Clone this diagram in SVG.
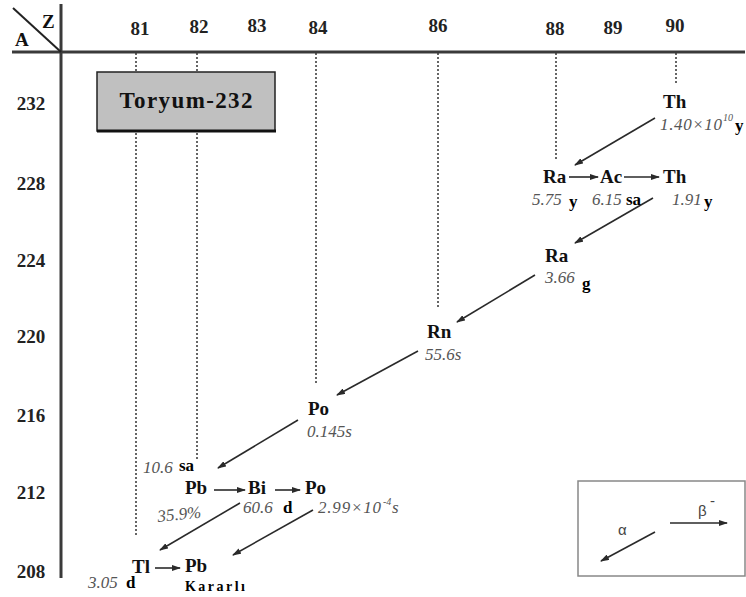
<svg xmlns="http://www.w3.org/2000/svg" width="746" height="597" viewBox="0 0 746 597">
<defs>
<style>
.ax{stroke:#3a3a3a;stroke-width:3;fill:none}
.dot{stroke:#333;stroke-width:1.5;stroke-dasharray:2 2;fill:none}
.arr{stroke:#2a2a2a;stroke-width:1.6;fill:none;marker-end:url(#ah)}
.lbl{font-family:"Liberation Serif",serif;font-weight:bold;font-size:19px;fill:#222;text-anchor:middle}
.sym{font-family:"Liberation Serif",serif;font-weight:bold;font-size:19px;fill:#111}
.hl{font-family:"Liberation Serif",serif;font-style:italic;font-size:17px;fill:#555}
.sup{font-family:"Liberation Serif",serif;font-style:italic;font-size:10px;fill:#555}
.un{font-family:"Liberation Serif",serif;font-weight:bold;font-size:17px;fill:#000}
.lg{font-family:"Liberation Sans",sans-serif;font-size:15px;fill:#444}
</style>
<marker id="ah" markerWidth="9" markerHeight="6" refX="8" refY="3" orient="auto" markerUnits="userSpaceOnUse">
<path d="M0,0 L9,3 L0,6 z" fill="#2a2a2a"/>
</marker>
</defs>
<rect width="746" height="597" fill="#fff"/>

<g id="axes">
<line class="ax" x1="12" y1="52" x2="745" y2="52"/>
<line class="ax" x1="61" y1="4" x2="61" y2="578"/>
<line x1="13" y1="8" x2="61" y2="52" stroke="#222" stroke-width="2"/>
<text class="sym" x="42" y="28" font-size="18">Z</text>
<text class="sym" x="15" y="46" font-size="18">A</text>
<text class="lbl" x="140" y="35">81</text>
<text class="lbl" x="199" y="33">82</text>
<text class="lbl" x="257" y="32">83</text>
<text class="lbl" x="318" y="34">84</text>
<text class="lbl" x="438" y="32">86</text>
<text class="lbl" x="555" y="35">88</text>
<text class="lbl" x="613" y="34">89</text>
<text class="lbl" x="675" y="32">90</text>
<text class="lbl" x="31" y="110">232</text>
<text class="lbl" x="31" y="190">228</text>
<text class="lbl" x="31" y="267">224</text>
<text class="lbl" x="31" y="343">220</text>
<text class="lbl" x="31" y="422">216</text>
<text class="lbl" x="31" y="499">212</text>
<text class="lbl" x="31" y="578">208</text>
</g>

<g id="gridlines">
<line class="dot" x1="136" y1="53" x2="136" y2="71"/>
<line class="dot" x1="136" y1="133" x2="136" y2="535"/>
<line class="dot" x1="197" y1="53" x2="197" y2="71"/>
<line class="dot" x1="197" y1="133" x2="197" y2="460"/>
<line class="dot" x1="316" y1="53" x2="316" y2="383"/>
<line class="dot" x1="438" y1="53" x2="438" y2="307"/>
<line class="dot" x1="556" y1="53" x2="556" y2="160"/>
<line class="dot" x1="676" y1="53" x2="676" y2="83"/>
</g>

<g id="title">
<rect x="97" y="72" width="178" height="59" fill="#c0c0c0" stroke="#222" stroke-width="1.5"/>
<line x1="97" y1="131" x2="276" y2="131" stroke="#111" stroke-width="3"/>
<text x="186" y="108" font-family="Liberation Serif, serif" font-weight="bold" font-size="23" text-anchor="middle" textLength="133" fill="#111">Toryum-232</text>
</g>

<g id="connectors">
<line class="arr" x1="655" y1="118" x2="575" y2="165"/>
<line class="arr" x1="653" y1="198" x2="575" y2="243"/>
<line class="arr" x1="535" y1="275" x2="457" y2="322"/>
<line class="arr" x1="418" y1="351" x2="337" y2="395"/>
<line class="arr" x1="298" y1="420" x2="218" y2="468"/>
<line class="arr" x1="240" y1="503" x2="160" y2="550"/>
<line class="arr" x1="313" y1="510" x2="233" y2="555"/>
<line class="arr" x1="569" y1="177" x2="598" y2="177"/>
<line class="arr" x1="624" y1="177" x2="659" y2="177"/>
<line class="arr" x1="214" y1="490" x2="245" y2="490"/>
<line class="arr" x1="275" y1="490" x2="300" y2="490"/>
<line class="arr" x1="155" y1="568" x2="180" y2="568"/>
</g>

<g id="th232">
<text class="sym" x="663" y="108">Th</text>
<text class="hl" x="660" y="130" textLength="62">1.40×10</text>
<text class="sup" x="723" y="121">10</text>
<text class="un" x="735" y="131">y</text>
</g>
<g id="ra228">
<text class="sym" x="543" y="183">Ra</text>
<text class="hl" x="532" y="205">5.75</text>
<text class="un" x="569" y="207">y</text>
</g>
<g id="ac228">
<text class="sym" x="600" y="183">Ac</text>
<text class="hl" x="592" y="205">6.15</text>
<text class="un" x="626" y="205">sa</text>
</g>
<g id="th228">
<text class="sym" x="663" y="183">Th</text>
<text class="hl" x="672" y="205">1.91</text>
<text class="un" x="704" y="207">y</text>
</g>
<g id="ra224">
<text class="sym" x="545" y="262">Ra</text>
<text class="hl" x="545" y="283">3.66</text>
<text class="un" x="582" y="289">g</text>
</g>
<g id="rn220">
<text class="sym" x="427" y="338">Rn</text>
<text class="hl" x="425" y="360">55.6s</text>
</g>
<g id="po216">
<text class="sym" x="308" y="415">Po</text>
<text class="hl" x="307" y="437">0.145s</text>
</g>
<g id="pb212">
<text class="hl" x="143" y="473">10.6</text>
<text class="un" x="179" y="471">sa</text>
<text class="sym" x="185" y="494">Pb</text>
<text class="hl" x="158" y="522" transform="rotate(-6 158 522)">35.9%</text>
</g>
<g id="bi212">
<text class="sym" x="248" y="494">Bi</text>
<text class="hl" x="243" y="513">60.6</text>
<text class="un" x="283" y="513">d</text>
</g>
<g id="po212">
<text class="sym" x="305" y="494">Po</text>
<text class="hl" x="318" y="513" textLength="63">2.99×10</text>
<text class="sup" x="383" y="505">-4</text>
<text class="hl" x="392" y="513">s</text>
</g>
<g id="tl208">
<text class="sym" x="132" y="573">Tl</text>
<text class="hl" x="88" y="588">3.05</text>
<text class="un" x="126" y="588">d</text>
</g>
<g id="pb208">
<text class="sym" x="185" y="572">Pb</text>
<text x="185" y="591" font-family="Liberation Serif, serif" font-weight="bold" font-size="14" textLength="60" fill="#000">Kararlı</text>
</g>

<g id="legend">
<rect x="578" y="481" width="167" height="95" fill="#fff" stroke="#888" stroke-width="1.5"/>
<line class="arr" x1="655" y1="532" x2="601" y2="561"/>
<line class="arr" x1="670" y1="523" x2="727" y2="523"/>
<text class="lg" x="618" y="535">α</text>
<text class="lg" x="698" y="516">β</text>
<text class="lg" x="710" y="506" font-size="9">-</text>
</g>
</svg>
